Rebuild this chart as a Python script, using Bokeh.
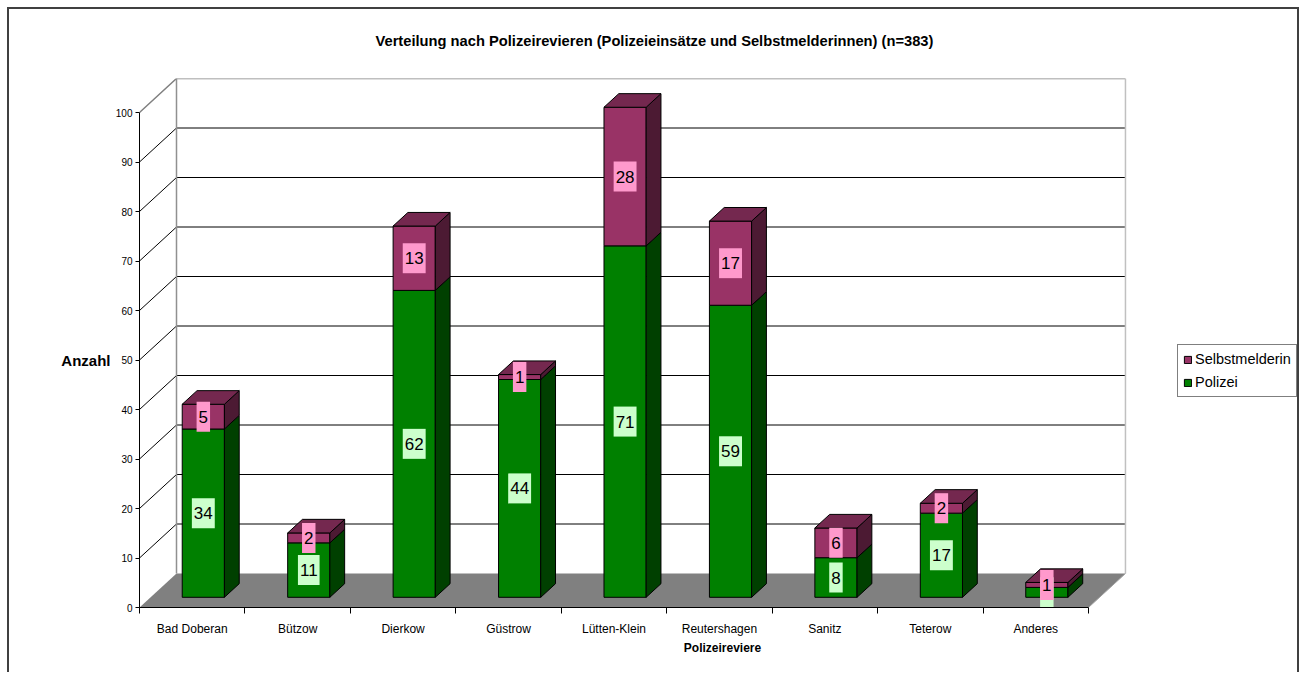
import numpy as np
from bokeh.plotting import figure
from bokeh.models import Range1d, LinearAxis, FixedTicker, Legend, LegendItem
from bokeh.core.properties import value
from bokeh.embed import file_html
from bokeh.resources import INLINE

# ---------------- data ----------------
categories = ["Bad Doberan", "Bützow", "Dierkow", "Güstrow", "Lütten-Klein",
              "Reutershagen", "Sanitz", "Teterow", "Anderes"]
polizei = [34, 11, 62, 44, 71, 59, 8, 17, 2]
selbstmelderin = [5, 2, 13, 1, 28, 17, 6, 2, 1]
y_ticks = [0, 10, 20, 30, 40, 50, 60, 70, 80, 90, 100]
title_text = "Verteilung nach Polizeirevieren (Polizeieinsätze und Selbstmelderinnen) (n=383)"
series_names = ["Selbstmelderin", "Polizei"]
x_title = "Polizeireviere"
y_title = "Anzahl"

# ---------------- layout ----------------
FONT = "Liberation Sans"
W, H = 1305, 672
ML, MR, MT = 139, 0, 78
MB = H - 607
FW = W - ML - MR
FH = H - MT - MB
PX_PER_CAT = 105.44
PX_PER_UNIT = 4.95
X_END = FW / PX_PER_CAT
Y_END = FH / PX_PER_UNIT
DX = 37 / PX_PER_CAT
DY = 34 / PX_PER_UNIT
BAR_W = 0.4
F0, F1 = 0.3, 0.7

n = len(categories)
ymax = y_ticks[-1]

p = figure(width=W, height=H, x_range=Range1d(0, X_END), y_range=Range1d(0, Y_END),
           x_axis_type=None, y_axis_type=None, toolbar_location=None,
           output_backend="svg", min_border_left=ML, min_border_right=MR,
           min_border_top=MT, min_border_bottom=MB, outline_line_color=None,
           background_fill_color=None, border_fill_color=None,
           title=title_text)
p.title.align = "left"
p.title.offset = 375 - ML
p.title.standoff = 60
p.title.text_font = FONT
p.title.text_font_size = "14.7px"
p.title.text_font_style = "bold"
p.title.text_color = "black"
# outer frame of the chart area (left, top, right edges)
p.styles = {"box-shadow": "inset 7px 7px 0 0 #ffffff, inset -6px 0 0 0 #ffffff, "
                          "inset 9px 9px 0 0 #404040, inset -8px 0 0 0 #404040",
            "background-color": "#ffffff"}

# floor
p.patch([0, n, n + DX, DX], [0, 0, DY, DY], fill_color="#808080", line_color=None)

# back wall gridlines and edges
inner = y_ticks[1:-1]
p.segment(x0=[DX] * len(inner), y0=[v + DY for v in inner],
          x1=[n + DX] * len(inner), y1=[v + DY for v in inner],
          line_color="black", line_width=1)
p.segment(x0=[0] * len(inner), y0=inner, x1=[DX] * len(inner),
          y1=[v + DY for v in inner], line_color="black", line_width=1)
p.line([0, DX, n + DX], [ymax, ymax + DY, ymax + DY], line_color="#808080", line_width=1.5)
p.line([DX, DX], [DY, ymax + DY], line_color="#909090", line_width=1.5)
p.line([n + DX, n + DX], [DY, ymax + DY], line_color="#c0c0c0", line_width=1.5)
p.line([n, n + DX], [0, DY], line_color="#a0a0a0", line_width=1)

# bars
pol = np.array(polizei, dtype=float)
sel = np.array(selbstmelderin, dtype=float)
xc = np.arange(n) + 0.5
x0 = xc - BAR_W / 2 + F0 * DX
x1 = x0 + BAR_W
oy = F0 * DY
D = (F1 - F0) * DX
dD = (F1 - F0) * DY


def faces(base, top):
    front_x = [[a, b, b, a] for a, b in zip(x0, x1)]
    front_y = [[lo + oy, lo + oy, hi + oy, hi + oy] for lo, hi in zip(base, top)]
    side_x = [[b, b + D, b + D, b] for b in x1]
    side_y = [[lo + oy, lo + oy + dD, hi + oy + dD, hi + oy] for lo, hi in zip(base, top)]
    top_x = [[a, b, b + D, a + D] for a, b in zip(x0, x1)]
    top_y = [[hi + oy, hi + oy, hi + oy + dD, hi + oy + dD] for hi in top]
    return front_x, front_y, side_x, side_y, top_x, top_y


gfx, gfy, gsx, gsy, _, _ = faces(np.zeros(n), pol)
pfx, pfy, psx, psy, ptx, pty = faces(pol, pol + sel)

g_front = p.patches(gfx, gfy, fill_color="#008000", line_color="black", line_width=1)
p.patches(gsx, gsy, fill_color="#004000", line_color="black", line_width=1)
s_front = p.patches(pfx, pfy, fill_color="#993366", line_color="black", line_width=1)
p.patches(psx, psy, fill_color="#4c1a33", line_color="black", line_width=1)
p.patches(ptx, pty, fill_color="#74284f", line_color="black", line_width=1)

# data labels (padding: left, right, top, bottom)
lx = x0 + BAR_W / 2
p.text(x=lx, y=pol / 2 + oy, text=[str(int(v)) for v in pol],
       text_align="center", text_baseline="middle", text_font=value(FONT),
       text_font_size="17px", text_color="black",
       background_fill_color="#ccffcc", padding=(2, 2, 9, 9))
p.text(x=lx, y=pol + sel / 2 + oy, text=[str(int(v)) for v in sel],
       text_align="center", text_baseline="middle", text_font=value(FONT),
       text_font_size="17px", text_color="black",
       background_fill_color="#ff99cc", padding=(2, 2, 9, 9))

# axes
xaxis = LinearAxis(ticker=FixedTicker(ticks=list(xc), minor_ticks=list(range(n + 1))),
                   major_label_overrides={float(c): name for c, name in zip(xc, categories)},
                   bounds=(0, n), major_tick_out=0, major_tick_in=0,
                   minor_tick_out=6, minor_tick_in=0,
                   axis_label=x_title, axis_label_text_font=FONT,
                   axis_label_text_font_style="bold", axis_label_text_font_size="12px",
                   axis_label_standoff=2, major_label_standoff=8,
                   major_label_text_font=FONT, major_label_text_font_size="12px",
                   major_label_text_color="black", axis_label_text_color="black",
                   axis_line_color="black", minor_tick_line_color="black")
p.add_layout(xaxis, "below")

yaxis = LinearAxis(ticker=FixedTicker(ticks=y_ticks, minor_ticks=[]),
                   bounds=(0, ymax), major_tick_out=4, major_tick_in=0,
                   minor_tick_out=0, minor_tick_in=0, major_label_standoff=3,
                   major_label_text_font=FONT, major_label_text_font_size="10px",
                   major_label_text_color="black", axis_line_color="black",
                   major_tick_line_color="black")
p.add_layout(yaxis, "left")

# horizontal y-axis title, placed as a label of an extra (line-less) left axis
ytitle_axis = LinearAxis(ticker=FixedTicker(ticks=[ymax / 2], minor_ticks=[]),
                         major_label_overrides={ymax / 2: y_title},
                         axis_line_color=None, major_tick_line_color=None,
                         minor_tick_line_color=None, major_tick_out=0, major_tick_in=0,
                         major_label_standoff=2, major_label_text_font=FONT,
                         major_label_text_font_size="15px",
                         major_label_text_font_style="bold",
                         major_label_text_color="black")
p.add_layout(ytitle_axis, "left")

legend = Legend(items=[LegendItem(label=series_names[0], renderers=[s_front]),
                       LegendItem(label=series_names[1], renderers=[g_front])],
                location=(1038, 210), orientation="vertical",
                label_text_font=FONT, label_text_font_size="14.5px",
                label_text_color="black", glyph_width=9, glyph_height=9,
                label_standoff=3, padding=5, spacing=5, label_height=18,
                margin=0, border_line_color="black", border_line_width=1,
                background_fill_color="white", background_fill_alpha=1)
p.add_layout(legend, "center")

open("out.html", "w").write(file_html(p, INLINE))
